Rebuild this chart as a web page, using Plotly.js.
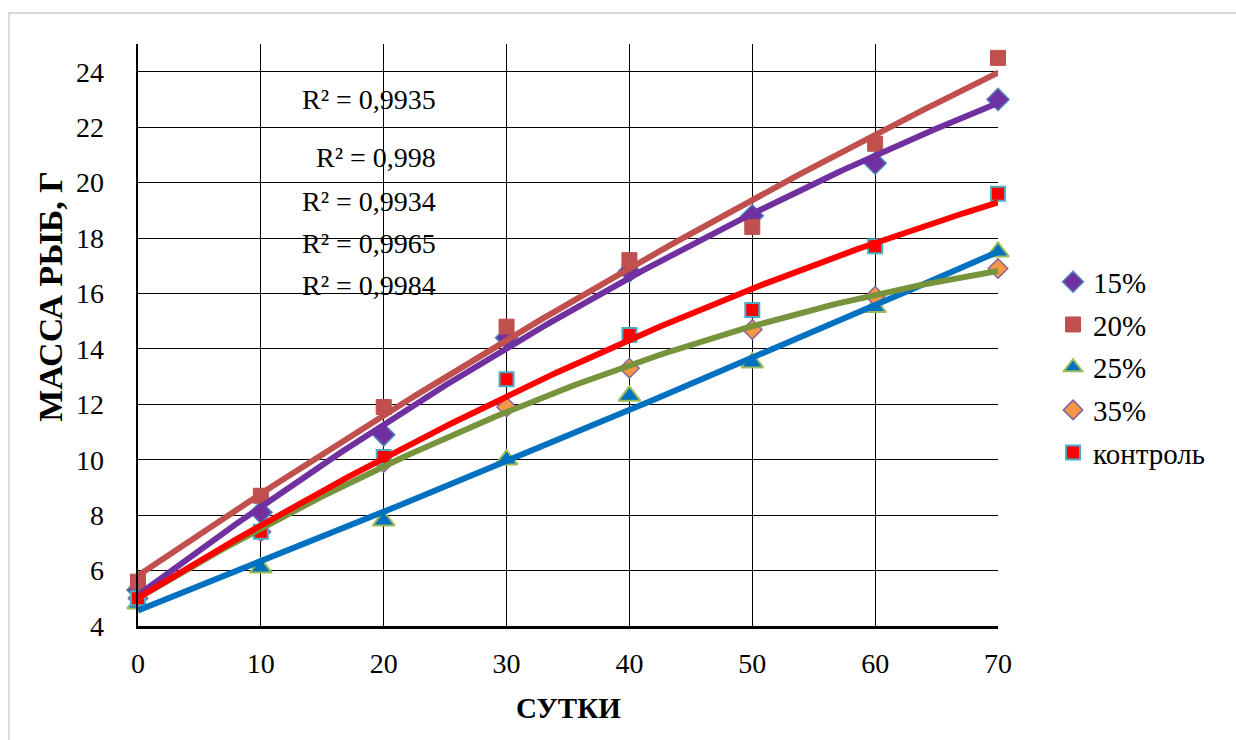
<!DOCTYPE html>
<html>
<head>
<meta charset="utf-8">
<script src="https://cdn.plot.ly/plotly-3.0.1.min.js"></script>
<style>
  html, body { margin: 0; padding: 0; background: #fff; }
  #wrap { position: relative; width: 1236px; height: 740px; overflow: hidden; }
  #chart { position: absolute; left: 0; top: 0; width: 1236px; height: 740px; }
  #frame { position: absolute; left: 8px; top: 12px; width: 1300px; height: 800px;
           border-left: 2px solid #d9d9d9; border-top: 2px solid #d9d9d9; pointer-events: none; }
</style>
</head>
<body>
<div id="wrap">
  <div id="chart"></div>
  <div id="frame"></div>
</div>
<script>
// ---- data ----
const days = [0, 10, 20, 30, 40, 50, 60, 70];
const s15 = [5.3, 8.1, 10.9, 14.4, 16.8, 18.8, 20.7, 23.0];
const s20 = [5.6, 8.7, 11.9, 14.8, 17.2, 18.4, 21.4, 24.5];
const s25 = [4.8, 6.1, 7.8, 10.0, 12.3, 13.5, 15.5, 17.5];
const s35 = [5.0, 7.4, 9.9, 11.9, 13.3, 14.7, 15.9, 16.9];
const sControl = [5.0, 7.4, 10.1, 12.9, 14.5, 15.4, 17.7, 19.6];
const seriesNames = ['15%', '20%', '25%', '35%', 'контроль'];
const r2Labels = ['R² = 0,9935', 'R² = 0,998', 'R² = 0,9934', 'R² = 0,9965', 'R² = 0,9984'];
const yTicks = [4, 6, 8, 10, 12, 14, 16, 18, 20, 22, 24];
const xTicks = [0, 10, 20, 30, 40, 50, 60, 70];

// ---- quadratic least-squares trendline (Excel-style polynomial, order 2) ----
function polyFit2(xs, ys) {
  let n = xs.length, sx = 0, sx2 = 0, sx3 = 0, sx4 = 0, sy = 0, sxy = 0, sx2y = 0;
  for (let i = 0; i < n; i++) {
    const x = xs[i], y = ys[i];
    sx += x; sx2 += x * x; sx3 += x * x * x; sx4 += x * x * x * x;
    sy += y; sxy += x * y; sx2y += x * x * y;
  }
  const M = [[n, sx, sx2, sy], [sx, sx2, sx3, sxy], [sx2, sx3, sx4, sx2y]];
  for (let c = 0; c < 3; c++) {
    let p = c;
    for (let r = c + 1; r < 3; r++) if (Math.abs(M[r][c]) > Math.abs(M[p][c])) p = r;
    [M[c], M[p]] = [M[p], M[c]];
    for (let r = 0; r < 3; r++) {
      if (r === c) continue;
      const f = M[r][c] / M[c][c];
      for (let k = c; k < 4; k++) M[r][k] -= f * M[c][k];
    }
  }
  return [M[0][3] / M[0][0], M[1][3] / M[1][1], M[2][3] / M[2][2]];
}
function trend(ys) {
  const [a, b, c] = polyFit2(days, ys);
  const xs = [], out = [];
  const x0 = days[0], x1 = days[days.length - 1];
  for (let i = 0; i <= 140; i++) {
    const x = x0 + (x1 - x0) * i / 140;
    xs.push(x); out.push(a + b * x + c * x * x);
  }
  return { x: xs, y: out };
}

const allSeries = [s15, s20, s25, s35, sControl];
const markerStyles = [
  { symbol: 'diamond', size: 17, color: '#7030A0', line: { color: '#4F81BD', width: 1.5 } },
  { symbol: 'square', size: 15, color: '#C0504D', line: { color: '#C0504D', width: 1 } },
  { symbol: 'triangle-up', size: 19, color: '#0070C0', line: { color: '#9BBB59', width: 2 } },
  { symbol: 'diamond', size: 15, color: '#F79646', line: { color: '#8064A2', width: 1.5 } },
  { symbol: 'square', size: 14, color: '#FF0000', line: { color: '#4BACC6', width: 2 } }
];
const lineColors = ['#7030A0', '#C0504D', '#0070C0', '#77933C', '#FF0000'];

const traces = [];
allSeries.forEach((ys, i) => {
  traces.push({
    x: days, y: ys, type: 'scatter', mode: 'markers', name: seriesNames[i],
    legendgroup: 'g' + i, marker: markerStyles[i], cliponaxis: false
  });
});
allSeries.forEach((ys, i) => {
  const t = trend(ys);
  traces.push({
    x: t.x, y: t.y, type: 'scatter', mode: 'lines', showlegend: false,
    legendgroup: 'g' + i, line: { color: lineColors[i], width: 6 }, hoverinfo: 'skip'
  });
});

const serif = 'Liberation Serif';
const r2Y = [23.0, 20.9, 19.3, 17.8, 16.3];
const annotations = r2Labels.map((t, i) => ({
  text: t, x: 24.4, y: r2Y[i], xref: 'x', yref: 'y', xanchor: 'right', yanchor: 'middle',
  showarrow: false, font: { family: serif, size: 28, color: '#000' }
}));
annotations.push({
  text: '<b>СУТКИ</b>', xref: 'paper', yref: 'paper', x: 0.50, y: -0.141,
  xanchor: 'center', yanchor: 'middle', showarrow: false,
  font: { family: serif, size: 29, color: '#000' }
});
annotations.push({
  text: '<b>МАССА РЫБ, Г</b>', xref: 'paper', yref: 'paper', x: -0.102, y: 0.566,
  xanchor: 'center', yanchor: 'middle', showarrow: false, textangle: -90,
  font: { family: serif, size: 34, color: '#000' }
});

const layout = {
  width: 1236, height: 740,
  margin: { l: 138, r: 238, t: 44, b: 114 },
  paper_bgcolor: '#fff', plot_bgcolor: '#fff',
  font: { family: serif, color: '#000' },
  showlegend: true,
  legend: {
    x: 1.064, y: 0.635, xanchor: 'left', yanchor: 'top',
    font: { family: serif, size: 29, color: '#000' },
    traceorder: 'grouped', tracegroupgap: 2, itemwidth: 30
  },
  xaxis: {
    range: [0, 70], tickvals: xTicks, ticktext: xTicks.map(String),
    showgrid: true, gridcolor: '#000', gridwidth: 1, zeroline: false,
    showline: true, linecolor: '#000', linewidth: 3,
    ticks: '', ticklabelstandoff: 10,
    tickfont: { family: serif, size: 28, color: '#000' }, fixedrange: true
  },
  yaxis: {
    range: [4, 25], tickvals: yTicks, ticktext: yTicks.map(String),
    showgrid: true, gridcolor: '#000', gridwidth: 1, zeroline: false,
    showline: true, linecolor: '#000', linewidth: 2.5,
    ticks: '', ticklabelstandoff: 26,
    tickfont: { family: serif, size: 28, color: '#000' }, fixedrange: true
  },
  annotations: annotations
};

Plotly.newPlot('chart', traces, layout, { displayModeBar: false, staticPlot: true });
</script>
</body>
</html>
